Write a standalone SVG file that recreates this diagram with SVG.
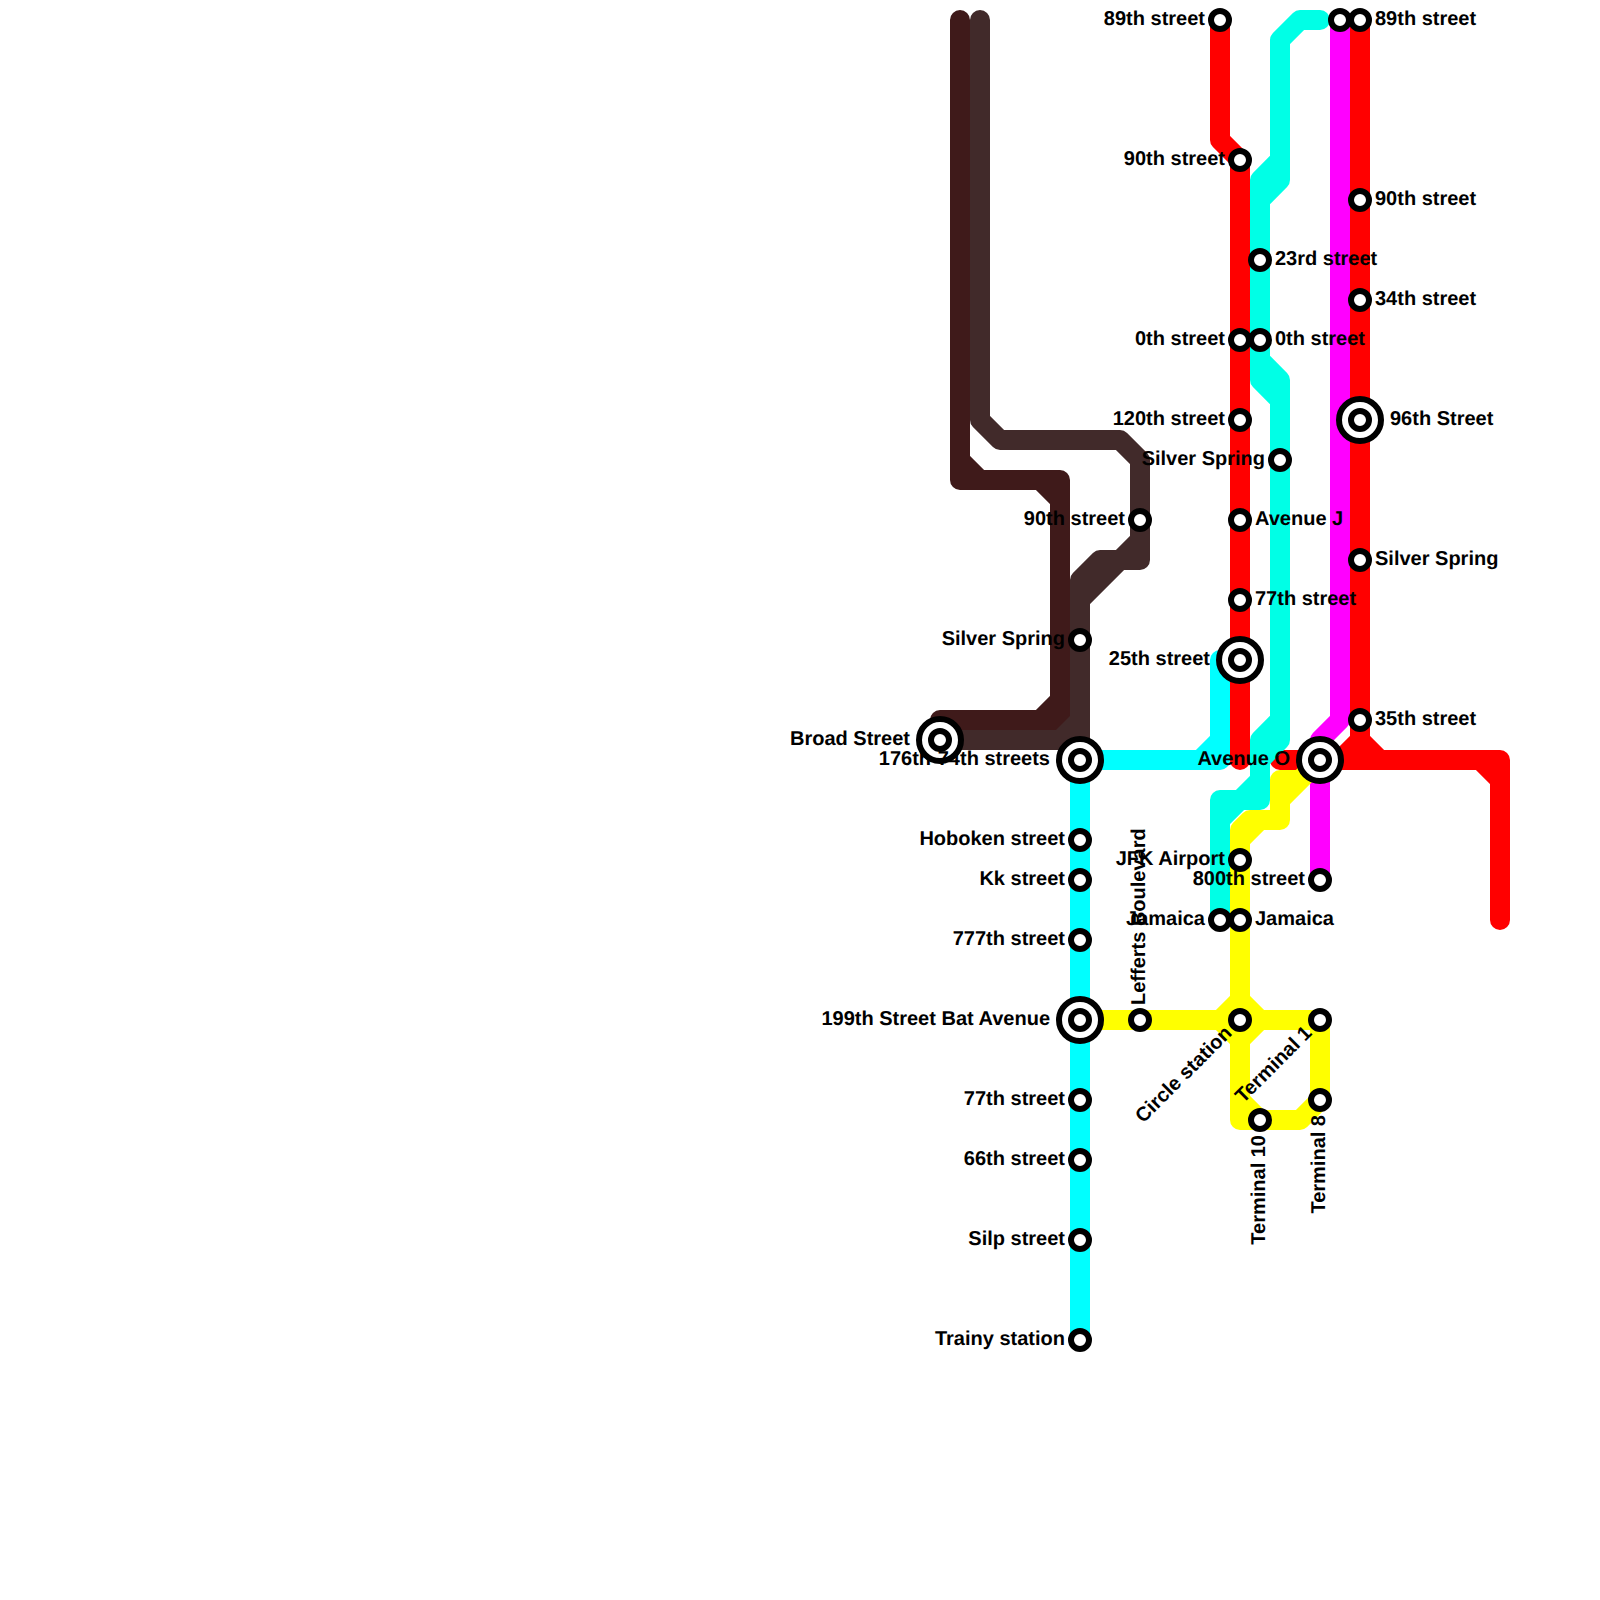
<svg xmlns="http://www.w3.org/2000/svg" width="1600" height="1600" viewBox="0 0 1600 1600">
<style>
.l{fill:none;stroke-width:20;stroke-linecap:round;stroke-linejoin:round}
.dark{stroke:#3f1a1a}.brown{stroke:#412a2a}.cyan{stroke:#00ffff}.turq{stroke:#00ffe6}.red{stroke:#ff0000}.mag{stroke:#ff00ff}.yel{stroke:#ffff00}
.s{fill:#fff;stroke:#000;stroke-width:6}
.o{fill:#fff;stroke:#000;stroke-width:6}
text{font-family:"Liberation Sans",Arial,sans-serif;font-weight:bold;font-size:20px;fill:#000;text-rendering:geometricPrecision}
.e{text-anchor:end}
</style>
<rect width="1600" height="1600" fill="#fff"/>
<g id="connectors">
<path class="l dark" d="M960 20V460L980 480H1040L1060 500V700L1040 720H940M960 460V480H980M1040 480H1060V500M1060 700V720H1040"/>
<path class="l brown" d="M980 20V420L1000 440H1120L1140 460V540L1120 560H1100L1080 580V740H940M1140 540V560H1120L1080 600M1060 740L1080 720V740"/>
<path class="l cyan" d="M1080 1340V760H1200L1220 740V660M1200 760H1220V740"/>
<path class="l red" d="M1220 20V140L1240 160V760"/>
<path class="l red" d="M1360 20V740L1340 760H1280M1360 740L1380 760H1480L1500 780V920M1480 760H1500V780M1340 760H1380"/>
<path class="l turq" d="M1320 20H1300L1280 40V160L1260 180V360L1280 380V720L1260 740V780L1240 800H1220V920M1280 160V180L1260 200M1260 360V380L1280 400M1280 720V740L1260 760M1260 780V800H1240L1220 820"/>
<path class="l mag" d="M1340 20V720L1320 740V880"/>
<path class="l yel" d="M1320 760L1280 800V780H1298M1280 800V820H1260L1240 840V1000L1220 1020H1080M1260 820H1250L1240 830V840M1240 1000L1260 1020H1320V1100L1300 1120H1240V1100L1260 1120M1220 1020L1240 1040V1100M1260 1020L1240 1040"/>
</g>
<g id="n1"><circle class="s" cx="1220" cy="20" r="9"/><text class="e" x="1205" y="25">89th street</text></g>
<g id="n2"><circle class="s" cx="1340" cy="20" r="9"/></g>
<g id="n3"><circle class="s" cx="1360" cy="20" r="9"/><text x="1375" y="25">89th street</text></g>
<g id="n4"><circle class="s" cx="1240" cy="160" r="9"/><text class="e" x="1225" y="165">90th street</text></g>
<g id="n5"><circle class="s" cx="1360" cy="200" r="9"/><text x="1375" y="205">90th street</text></g>
<g id="n6"><circle class="s" cx="1260" cy="260" r="9"/><text x="1275" y="265">23rd street</text></g>
<g id="n7"><circle class="s" cx="1360" cy="300" r="9"/><text x="1375" y="305">34th street</text></g>
<g id="n8"><circle class="s" cx="1240" cy="340" r="9"/><text class="e" x="1225" y="345">0th street</text></g>
<g id="n9"><circle class="s" cx="1260" cy="340" r="9"/><text x="1275" y="345">0th street</text></g>
<g id="n10"><circle class="s" cx="1240" cy="420" r="9"/><text class="e" x="1225" y="425">120th street</text></g>
<g id="n11"><circle class="o" cx="1360" cy="420" r="21"/><circle class="s" cx="1360" cy="420" r="9"/><text x="1390" y="425">96th Street</text></g>
<g id="n12"><circle class="s" cx="1280" cy="460" r="9"/><text class="e" x="1265" y="465">Silver Spring</text></g>
<g id="n13"><circle class="s" cx="1240" cy="520" r="9"/><text x="1255" y="525">Avenue J</text></g>
<g id="n14"><circle class="s" cx="1140" cy="520" r="9"/><text class="e" x="1125" y="525">90th street</text></g>
<g id="n15"><circle class="s" cx="1360" cy="560" r="9"/><text x="1375" y="565">Silver Spring</text></g>
<g id="n16"><circle class="s" cx="1240" cy="600" r="9"/><text x="1255" y="605">77th street</text></g>
<g id="n17"><circle class="s" cx="1080" cy="640" r="9"/><text class="e" x="1065" y="645">Silver Spring</text></g>
<g id="n18"><circle class="o" cx="1240" cy="660" r="21"/><circle class="s" cx="1240" cy="660" r="9"/><text class="e" x="1210" y="665">25th street</text></g>
<g id="n19"><circle class="s" cx="1360" cy="720" r="9"/><text x="1375" y="725">35th street</text></g>
<g id="n20"><circle class="o" cx="940" cy="740" r="21"/><circle class="s" cx="940" cy="740" r="9"/><text class="e" x="910" y="745">Broad Street</text></g>
<g id="n21"><circle class="o" cx="1080" cy="760" r="21"/><circle class="s" cx="1080" cy="760" r="9"/><text class="e" x="1050" y="765">176th-74th streets</text></g>
<g id="n22"><circle class="o" cx="1320" cy="760" r="21"/><circle class="s" cx="1320" cy="760" r="9"/><text class="e" x="1290" y="765">Avenue O</text></g>
<g id="n23"><circle class="s" cx="1080" cy="840" r="9"/><text class="e" x="1065" y="845">Hoboken street</text></g>
<g id="n24"><circle class="s" cx="1080" cy="880" r="9"/><text class="e" x="1065" y="885">Kk street</text></g>
<g id="n25"><circle class="s" cx="1080" cy="940" r="9"/><text class="e" x="1065" y="945">777th street</text></g>
<g id="n26"><circle class="o" cx="1080" cy="1020" r="21"/><circle class="s" cx="1080" cy="1020" r="9"/><text class="e" x="1050" y="1025">199th Street Bat Avenue</text></g>
<g id="n27"><circle class="s" cx="1080" cy="1100" r="9"/><text class="e" x="1065" y="1105">77th street</text></g>
<g id="n28"><circle class="s" cx="1080" cy="1160" r="9"/><text class="e" x="1065" y="1165">66th street</text></g>
<g id="n29"><circle class="s" cx="1080" cy="1240" r="9"/><text class="e" x="1065" y="1245">Silp street</text></g>
<g id="n30"><circle class="s" cx="1080" cy="1340" r="9"/><text class="e" x="1065" y="1345">Trainy station</text></g>
<g id="n31"><circle class="s" cx="1140" cy="1020" r="9"/><text x="1155" y="1025" transform="rotate(-90 1140 1020)">Lefferts Boulevard</text></g>
<g id="n32"><circle class="s" cx="1240" cy="860" r="9"/><text class="e" x="1225" y="865">JFK Airport</text></g>
<g id="n33"><circle class="s" cx="1320" cy="880" r="9"/><text class="e" x="1305" y="885">800th street</text></g>
<g id="n34"><circle class="s" cx="1220" cy="920" r="9"/><text class="e" x="1205" y="925">Jamaica</text></g>
<g id="n35"><circle class="s" cx="1240" cy="920" r="9"/><text x="1255" y="925">Jamaica</text></g>
<g id="n36"><circle class="s" cx="1240" cy="1020" r="9"/><text class="e" x="1225" y="1025" transform="rotate(-45 1240 1020)">Circle station</text></g>
<g id="n37"><circle class="s" cx="1320" cy="1020" r="9"/><text class="e" x="1305" y="1025" transform="rotate(-45 1320 1020)">Terminal 1</text></g>
<g id="n38"><circle class="s" cx="1320" cy="1100" r="9"/><text class="e" x="1305" y="1105" transform="rotate(-90 1320 1100)">Terminal 8</text></g>
<g id="n39"><circle class="s" cx="1260" cy="1120" r="9"/><text class="e" x="1245" y="1125" transform="rotate(-90 1260 1120)">Terminal 10</text></g>
</svg>
